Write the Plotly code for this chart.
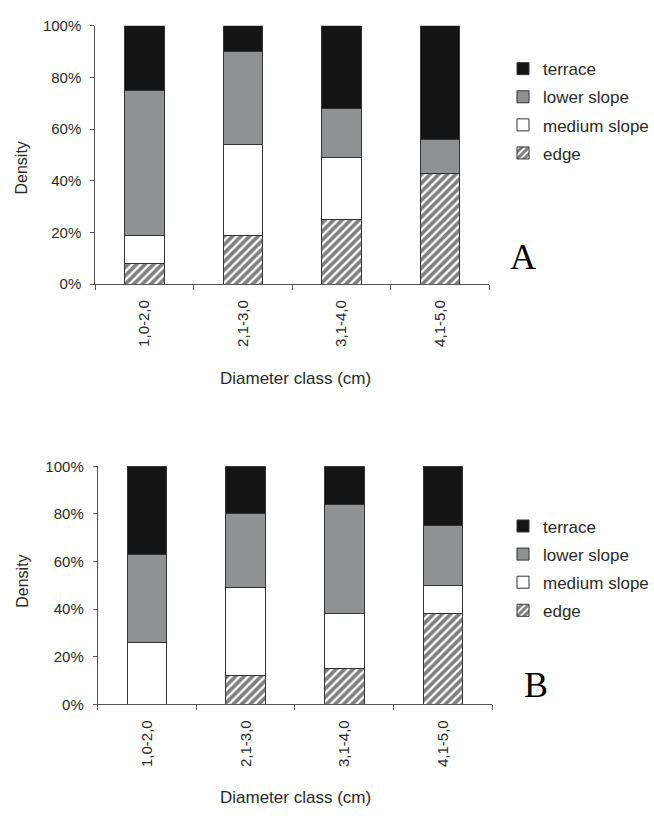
import plotly.graph_objects as go

# Diameter classes (cm)
classes = ["1,0-2,0", "2,1-3,0", "3,1-4,0", "4,1-5,0"]

# Panel A: share of stems (%) per slope position
a_edge = [8, 19, 25, 43]
a_medium = [11, 35, 24, 0]
a_lower = [56, 36, 19, 13]
a_terrace = [25, 10, 32, 44]

# Panel B: share of stems (%) per slope position
b_edge = [0, 12, 15, 38]
b_medium = [26, 37, 23, 12]
b_lower = [37, 31, 46, 25]
b_terrace = [37, 20, 16, 25]

series_names = ["edge", "medium slope", "lower slope", "terrace"]
y_ticks = [0, 20, 40, 60, 80, 100]

W, H = 654, 821
SANS = "Arial, Liberation Sans, sans-serif"
SERIF = "Times New Roman, Liberation Serif, serif"
TXT = "#2a2a2a"
AX = "#555555"
OUTLINE = "#333333"


def px_x(p):
    return p / W


def px_y(p):
    return 1 - p / H


def style(name):
    if name == "edge":
        return dict(color="white",
                    pattern=dict(shape="/", fgcolor="#000000", bgcolor="white",
                                 size=6, solidity=0.62),
                    line=dict(color=OUTLINE, width=1))
    fills = {"medium slope": "white", "lower slope": "#8f9192", "terrace": "#141414"}
    return dict(color=fills[name], line=dict(color=OUTLINE, width=1))


# legend lists the top of the stack first
rank = {"terrace": 1, "lower slope": 2, "medium slope": 3, "edge": 4}

fig = go.Figure()

panels = [
    ("x", "y", "legend", [a_edge, a_medium, a_lower, a_terrace]),
    ("x2", "y2", "legend2", [b_edge, b_medium, b_lower, b_terrace]),
]
for xa, ya, lg, values in panels:
    for name, vals in zip(series_names, values):
        fig.add_trace(go.Bar(
            x=classes, y=vals, name=name, xaxis=xa, yaxis=ya,
            legend=lg, legendgroup=lg + name, legendrank=rank[name],
            width=0.4, marker=style(name),
        ))

xaxis_common = dict(
    type="category", showline=True, linecolor=AX, linewidth=1,
    ticks="outside", ticklen=5, tickcolor=AX, tickson="boundaries",
    tickangle=-90, tickfont=dict(family=SANS, size=15, color=TXT),
    ticklabelstandoff=9, showgrid=False, zeroline=False, fixedrange=True,
)
yaxis_common = dict(
    range=[0, 100], tickmode="array", tickvals=y_ticks,
    ticktext=[f"{v}%" for v in y_ticks],
    showline=True, linecolor=AX, linewidth=1, ticks="outside", ticklen=4,
    tickcolor=AX, tickfont=dict(family=SANS, size=15, color=TXT),
    ticklabelstandoff=6, showgrid=False, zeroline=False, fixedrange=True,
)

legend_common = dict(
    traceorder="grouped", font=dict(family=SANS, size=17, color=TXT),
    bgcolor="rgba(0,0,0,0)", xanchor="left", yanchor="top",
    tracegroupgap=3, itemclick=False,
)

fig.update_layout(
    width=W, height=H, margin=dict(l=0, r=0, t=0, b=0),
    paper_bgcolor="white", plot_bgcolor="white",
    barmode="stack", bargap=0.6,
    xaxis=dict(xaxis_common, domain=[px_x(96), px_x(493)], anchor="y"),
    yaxis=dict(yaxis_common, domain=[px_y(281), px_y(17)], anchor="x"),
    xaxis2=dict(xaxis_common, domain=[px_x(98.5), px_x(496)], anchor="y2"),
    yaxis2=dict(yaxis_common, domain=[px_y(710), px_y(467)], anchor="x2"),
    legend=dict(legend_common, x=px_x(507), y=px_y(43)),
    legend2=dict(legend_common, x=px_x(507), y=px_y(510)),
)

annotations = [
    dict(text="Diameter class (cm)", x=px_x(298), y=px_y(377),
         font=dict(family=SANS, size=17, color=TXT)),
    dict(text="Diameter class (cm)", x=px_x(298), y=px_y(805),
         font=dict(family=SANS, size=17, color=TXT)),
    dict(text="Density", x=px_x(22), y=px_y(162), textangle=-90,
         font=dict(family=SANS, size=16, color=TXT)),
    dict(text="Density", x=px_x(23), y=px_y(584), textangle=-90,
         font=dict(family=SANS, size=16, color=TXT)),
    dict(text="A", x=px_x(527), y=px_y(253),
         font=dict(family=SERIF, size=36, color="black")),
    dict(text="B", x=px_x(540), y=px_y(690),
         font=dict(family=SERIF, size=36, color="black")),
]
for a in annotations:
    fig.add_annotation(dict(a, xref="paper", yref="paper", showarrow=False,
                            xanchor="center", yanchor="middle"))

fig.write_html("out.html")
